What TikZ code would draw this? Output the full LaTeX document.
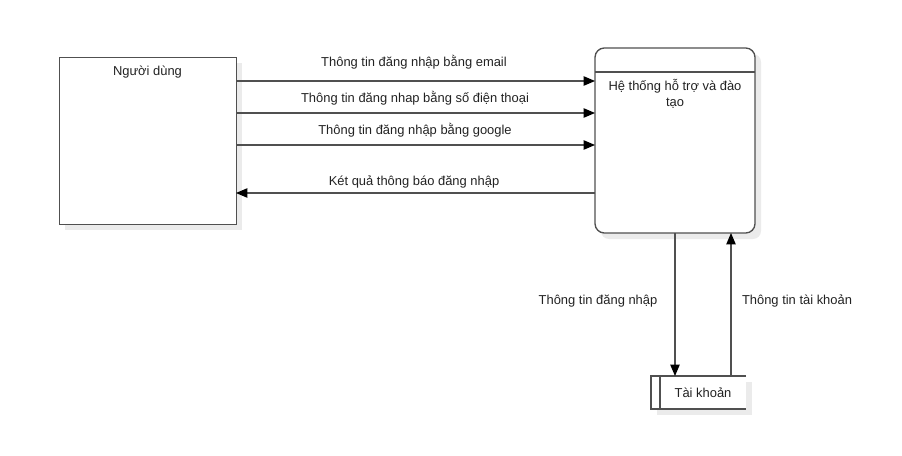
\documentclass[tikz,border=0pt]{standalone}
\usepackage{fontspec}
\setmainfont{Liberation Sans}
\usetikzlibrary{arrows.meta}
\definecolor{ln}{HTML}{505050}
\definecolor{tx}{HTML}{222222}
\definecolor{shd}{HTML}{EBEBEB}
\begin{document}
\begin{tikzpicture}[x=0.75pt,y=-0.75pt,
  font=\fontsize{9.7}{11.5}\selectfont, text=tx,
  flow/.style={draw=ln, line width=0.9pt, -{Triangle[length=8.5pt,width=7pt,color=black]}},
  lbl/.style={inner sep=0pt, anchor=center},
  boxline/.style={draw=ln, line width=1pt}]
\useasboundingbox (0,0) rectangle (902,456);
% shadows
\fill[shd] (65,63) rectangle (242,230);
\fill[shd, rounded corners=6pt] (601,54) rectangle (761,239);
\fill[shd] (657,382) rectangle (752,415);
% Người dùng
\node[boxline, fill=white, minimum width=177*0.75pt, minimum height=167*0.75pt, anchor=north west, inner sep=0pt] (user) at (59,57) {};
\node[lbl] (userlbl) at (147.5,72) {Người dùng};
% System
\draw[boxline, fill=white, rounded corners=7pt] (595,48) rectangle (755,233);
\node[inner sep=0pt, minimum width=160*0.75pt, minimum height=185*0.75pt, anchor=north west] (sys) at (595,48) {};
\draw[boxline] (595,72) -- (755,72);
\node[lbl, align=center] (syslbl) at (675,94) {Hệ thống hỗ trợ và đào\\tạo};
% Tài khoản
\fill[white] (651,376) rectangle (746,409);
\draw[boxline] (746,376) -- (651,376) -- (651,409) -- (746,409);
\draw[boxline] (660,376) -- (660,409);
\node[inner sep=0pt, minimum width=95*0.75pt, minimum height=33*0.75pt, anchor=north west] (acc) at (651,376) {};
\node[lbl] (acclbl) at (703,393) {Tài khoản};
% flows
\coordinate (u1) at (236,81); \coordinate (s1) at (595,81);
\coordinate (u2) at (236,113); \coordinate (s2) at (595,113);
\coordinate (u3) at (236,145); \coordinate (s3) at (595,145);
\coordinate (u4) at (236,193); \coordinate (s4) at (595,193);
\draw[flow] (u1) -- (s1);
\draw[flow] (u2) -- (s2);
\draw[flow] (u3) -- (s3);
\draw[flow] (s4) -- (u4);
\node[lbl] (l1) at (414,62) {Thông tin đăng nhập bằng email};
\node[lbl] (l2) at (415,98) {Thông tin đăng nhap bằng số điện thoại};
\node[lbl] (l3) at (415,130) {Thông tin đăng nhập bằng google};
\node[lbl] (l4) at (414,182) {Két quả thông báo đăng nhập};
\coordinate (sd) at (675,233); \coordinate (ad) at (675,376);
\coordinate (su) at (731,233); \coordinate (au) at (731,376);
\draw[flow] (sd) -- (ad);
\draw[flow] (au) -- (su);
\node[lbl] (l5) at (598,301) {Thông tin đăng nhập};
\node[lbl] (l6) at (797,301) {Thông tin tài khoản};
\end{tikzpicture}
\end{document}
